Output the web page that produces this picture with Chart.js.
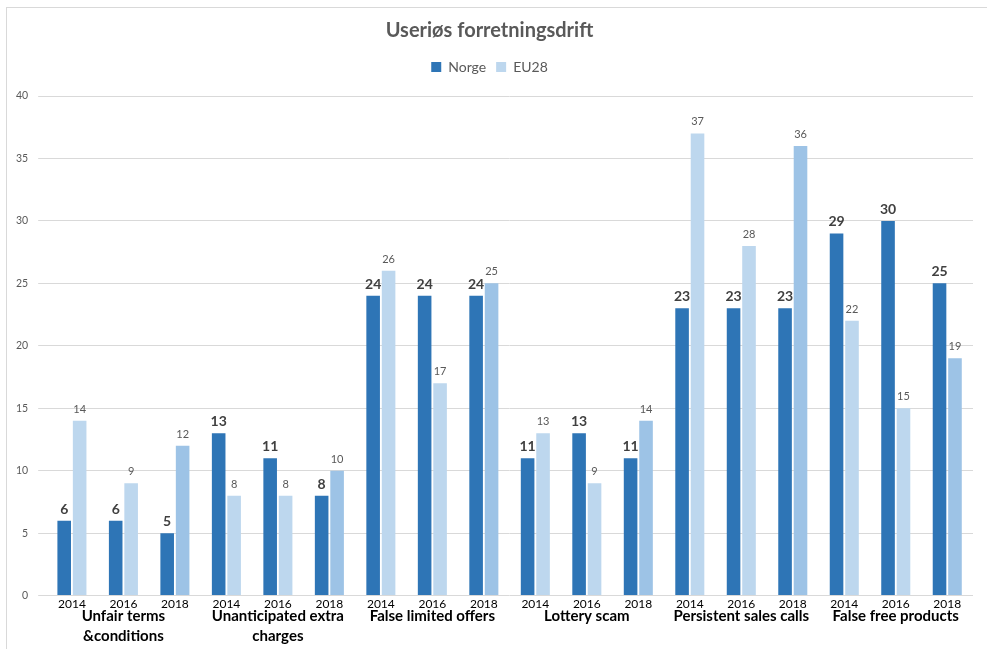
<!DOCTYPE html>
<html>
<head>
<meta charset="utf-8">
<script src="https://cdn.jsdelivr.net/npm/chart.js@4"></script>
<style>
    html, body { margin: 0; padding: 0; background: #fff; }
    #frame { position: absolute; left: 6px; top: 7px; width: 990px; height: 650px; border: 1px solid #d9d9d9; box-sizing: border-box; }
    #wrap { position: absolute; left: 0; top: 0; width: 987px; height: 649px; }
</style>
</head>
<body>
<div id="frame"></div>
<div id="wrap"><canvas id="c"></canvas></div>
<script>
var categories = [["Unfair terms", "&conditions"], ["Unanticipated extra", "charges"], ["False limited offers"], ["Lottery scam"], ["Persistent sales calls"], ["False free products"]];
var years = ["2014", "2016", "2018"];
var norge = [6, 6, 5, 13, 11, 8, 24, 24, 24, 11, 13, 11, 23, 23, 23, 29, 30, 25];
var eu28 = [14, 9, 12, 8, 8, 10, 26, 17, 25, 13, 9, 14, 37, 28, 36, 22, 15, 19];
var yMin = 0, yMax = 40, yStep = 5;

var labels = [];
var euColors = [];
for (var g = 0; g < categories.length; g++) {
    for (var y = 0; y < years.length; y++) {
        labels.push(years[y]);
        euColors.push(y == 2 ? "#9DC3E6" : "#BDD7EE");
    }
}

// extra room under the legend
var legendGap = {
    id: "legendGap",
    beforeInit: function (chart) {
        var fit = chart.legend.fit;
        chart.legend.fit = function () {
            fit.call(this);
            this.height += 12;
        };
    }
};

var groupLabels = {
    id: "groupLabels",
    afterDraw: function (chart) {
        var ctx = chart.ctx;
        var x = chart.scales.x;
        var bottom = chart.chartArea.bottom;
        ctx.save();
        ctx.font = "bold 15px Lato";
        ctx.fillStyle = "#000";
        ctx.textAlign = "center";
        ctx.textBaseline = "middle";
        for (var g = 0; g < categories.length; g++) {
            var cx = (x.getPixelForValue(g * 3) + x.getPixelForValue(g * 3 + 2)) / 2;
            for (var l = 0; l < categories[g].length; l++) {
                ctx.fillText(categories[g][l], cx, bottom + 21 + l * 20);
            }
        }
        ctx.restore();
    }
};

var valueLabels = {
    id: "valueLabels",
    afterDatasetsDraw: function (chart) {
        var ctx = chart.ctx;
        ctx.save();
        ctx.textAlign = "center";
        ctx.textBaseline = "alphabetic";
        chart.data.datasets.forEach(function (ds, i) {
            var meta = chart.getDatasetMeta(i);
            if (i == 0) {
                ctx.font = "bold 14px Lato";
                ctx.fillStyle = "#404040";
            } else {
                ctx.font = "11px Lato";
                ctx.fillStyle = "#595959";
            }
            meta.data.forEach(function (el, j) {
                ctx.fillText(ds.data[j], el.x, el.y - (i == 0 ? 7 : 8));
            });
        });
        ctx.restore();
    }
};

Chart.defaults.font.family = "Lato";

new Chart(document.getElementById("c"), {
    type: "bar",
    data: {
        labels: labels,
        datasets: [
            {
                label: "Norge",
                data: norge,
                backgroundColor: "#2E75B6",
                categoryPercentage: 0.6,
                barPercentage: 0.88
            },
            {
                label: "EU28",
                data: eu28,
                backgroundColor: euColors,
                categoryPercentage: 0.6,
                barPercentage: 0.88
            }
        ]
    },
    options: {
        responsive: true,
        maintainAspectRatio: false,
        animation: false,
        layout: {
            padding: { left: 6, right: 14, top: 0, bottom: 37 }
        },
        plugins: {
            title: {
                display: true,
                text: "Useriøs forretningsdrift",
                color: "#595959",
                font: { size: 20, weight: "bold" },
                padding: { top: 19, bottom: 7 }
            },
            legend: {
                labels: {
                    boxWidth: 10,
                    boxHeight: 10,
                    color: "#595959",
                    font: { size: 14 }
                }
            },
            tooltip: { enabled: false }
        },
        scales: {
            x: {
                grid: { display: false, drawTicks: false },
                border: { display: false },
                ticks: {
                    autoSkip: false,
                    maxRotation: 0,
                    color: "#000",
                    font: { size: 12 },
                    padding: 1
                }
            },
            y: {
                min: yMin,
                max: yMax,
                grid: { color: "#d9d9d9" },
                border: { display: false },
                ticks: {
                    stepSize: yStep,
                    color: "#595959",
                    font: { size: 10.5 },
                    padding: 10
                }
            }
        }
    },
    plugins: [legendGap, groupLabels, valueLabels]
});
</script>
</body>
</html>
